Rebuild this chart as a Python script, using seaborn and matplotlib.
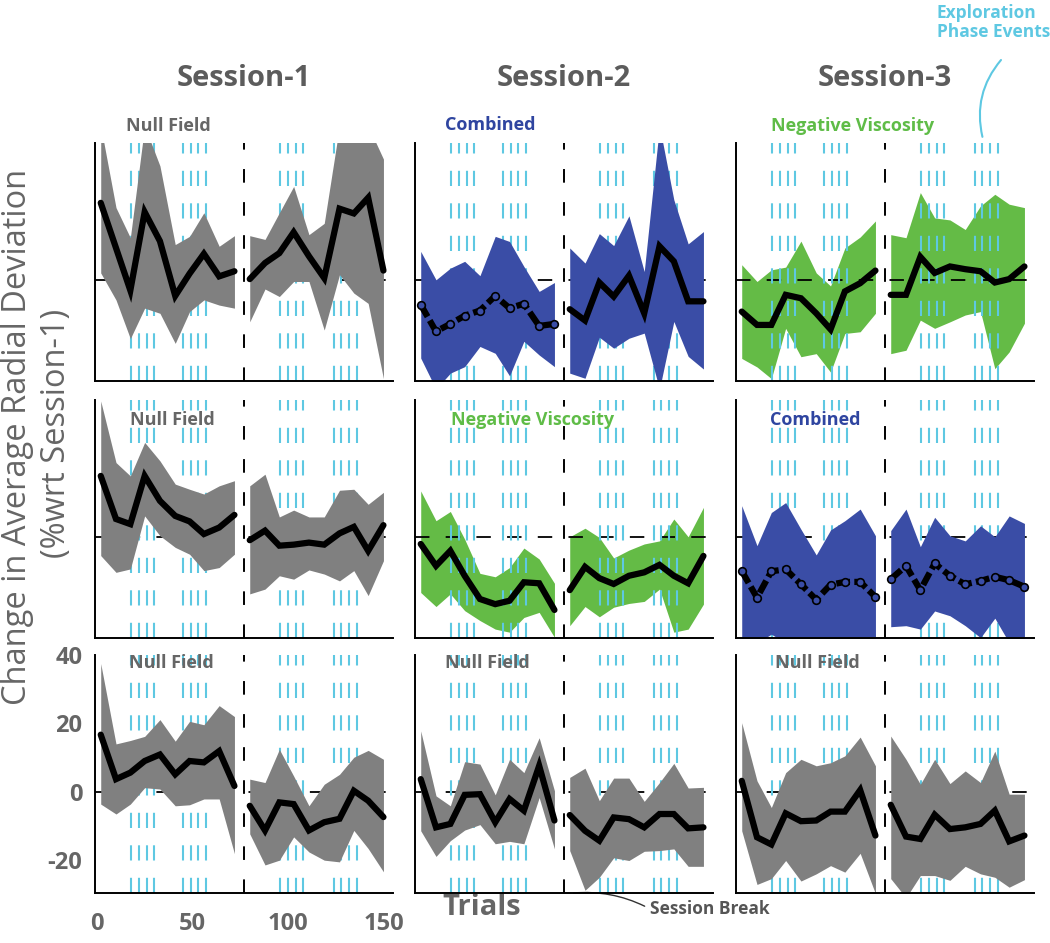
import matplotlib
matplotlib.use("Agg")
import matplotlib.pyplot as plt
import pandas as pd
import seaborn as sns

# ---------------- data ----------------
trials = [2, 10, 17.5, 25, 33, 41, 48.5, 56, 64, 72,
          80, 88, 95.5, 103, 111, 119, 127, 134.5, 142, 150]
exploration_trials = [18, 22, 26, 30, 45, 49, 53, 57,
                      96, 100, 104, 108, 124, 128, 132, 136]
session_break = 77
sessions = ["Session-1", "Session-2", "Session-3"]
conditions = [["Null Field", "Combined", "Negative Viscosity"],
              ["Null Field", "Negative Viscosity", "Combined"],
              ["Null Field", "Null Field", "Null Field"]]
y_ticks = [-20, 0, 20, 40]
x_ticks = [0, 50, 100, 150]

# row 1
r1c1_mean = [22.5, 9.3, -3.1, 19.8, 11.3, -4.7, 1.8, 7.6, 1.0, 2.5, 0.2, 4.9, 7.8, 13.9, 6.9, 0.5, 20.8, 19.4, 24.0, 2.7]
r1c1_hi = [45, 21.1, 12.3, 45, 33.3, 10.3, 12.7, 19.6, 9.8, 12.9, 12.9, 11.8, 19.6, 27.3, 13.2, 16.5, 45, 45, 45, 35.3]
r1c1_lo = [2.0, -5.9, -17.2, -8.3, -9.8, -18.6, -9.3, -5.9, -7.4, -8.3, -12.3, -2.7, -4.9, -0.5, -0.5, -14.7, 1.5, -3.9, -6.9, -28.9]

r1c2_mean = [-7.3, -15.1, -12.9, -10.5, -9.0, -4.7, -8.3, -7.0, -13.5, -12.9, -8.6, -11.9, -0.8, -4.9, 1.2, -9.8, 9.8, 5.4, -6.3, -6.3]
r1c2_hi = [8.3, 0.0, 3.4, 5.4, 1.2, 12.7, 11.2, 3.9, -3.4, -0.8, 9.3, 4.9, 13.5, 10.0, 18.7, 2.4, 45, 23.4, 10.5, 14.1]
r1c2_lo = [-22.9, -32, -27.3, -25.4, -19.5, -21.5, -28.1, -18.0, -22.0, -25.4, -27.3, -28.8, -16.8, -20.0, -17.1, -15.6, -32, -12.2, -22.4, -26.1]

r1c3_mean = [-9.3, -13.2, -13.2, -4.4, -5.4, -9.8, -14.5, -3.4, -1.0, 2.7, -4.4, -4.4, 6.7, 2.0, 3.9, 3.1, 2.5, -0.8, 0.2, 3.9]
r1c3_hi = [4.4, -0.5, 2.9, 3.7, 11.3, 2.0, -1.8, 9.3, 12.5, 17.2, 13.2, 12.3, 25.5, 18.1, 17.5, 14.7, 21.6, 25.0, 22.1, 21.1]
r1c3_lo = [-23.0, -25.5, -28.9, -14.2, -22.5, -21.6, -27.0, -15.7, -15.2, -9.8, -21.6, -20.6, -11.8, -14.2, -12.3, -10.3, -9.3, -26.0, -21.1, -12.7]

# row 2
r2c1_mean = [17.8, 5.2, 3.7, 17.8, 10.5, 6.1, 4.5, 0.8, 2.7, 6.4, -1.0, 1.8, -2.6, -2.3, -1.7, -2.3, 1.0, 2.9, -4.1, 3.4]
r2c1_hi = [39.7, 21.7, 17.8, 27.6, 22.2, 15.4, 13.9, 12.5, 14.9, 16.4, 14.9, 18.3, 5.8, 7.8, 5.8, 5.8, 13.6, 13.9, 9.5, 13.0]
r2c1_lo = [-5.5, -10.4, -9.4, 6.1, 0.3, -3.1, -5.1, -9.9, -9.0, -5.1, -16.7, -15.3, -11.4, -12.4, -9.7, -10.9, -12.9, -9.9, -17.2, -7.0]

r2c2_mean = [-2.1, -8.5, -4.1, -11.4, -18.2, -19.7, -18.7, -13.3, -13.6, -21.4, -15.6, -8.8, -12.1, -13.8, -11.4, -10.4, -8.2, -11.4, -13.6, -5.6]
r2c2_hi = [13.4, 4.7, 7.4, -0.7, -10.7, -11.7, -9.0, -3.3, -6.5, -13.6, 0.0, 2.5, -0.2, -6.2, -3.9, -2.1, -1.2, 5.2, 0.0, 8.6]
r2c2_lo = [-16.3, -20.4, -16.7, -21.6, -24.5, -27.0, -27.9, -23.6, -22.1, -29.4, -26.0, -20.4, -23.4, -20.6, -19.5, -18.9, -15.3, -27.9, -27.0, -19.7]

r2c3_mean = [-10.0, -17.8, -10.1, -9.5, -13.9, -18.4, -14.0, -13.2, -13.2, -17.6, -12.4, -8.5, -15.6, -7.8, -11.4, -13.9, -12.9, -11.7, -12.7, -14.6]
r2c3_hi = [9.1, -2.6, 7.1, 10.0, 2.2, -5.3, 2.0, 4.7, 8.1, 0.3, 1.8, 8.1, -2.9, 5.7, 0.3, -1.2, 3.2, 0.0, 6.1, 3.9]
r2c3_lo = [-31, -31, -28.5, -31, -31, -31, -31, -31, -31, -31, -26.3, -26.0, -27.0, -21.7, -23.1, -26.0, -29.5, -23.8, -31, -31]

# row 3
r3c1_mean = [16.7, 3.7, 5.6, 9.0, 10.9, 5.1, 9.0, 8.6, 11.9, 1.7, -4.1, -11.3, -3.1, -3.6, -11.3, -8.9, -7.9, 0.3, -2.6, -7.4]
r3c1_hi = [37.5, 14.0, 15.0, 16.2, 21.1, 14.8, 20.6, 19.6, 25.2, 22.0, 3.7, 2.7, 12.4, 4.6, -4.1, 2.2, 5.1, 10.1, 12.1, 9.5]
r3c1_lo = [-3.6, -6.5, -3.6, 1.2, 0.8, -4.1, -3.8, -2.1, -2.1, -18.1, -12.3, -21.4, -20.0, -13.2, -17.6, -20.0, -20.5, -11.3, -16.6, -23.4]

r3c2_mean = [3.7, -10.4, -9.4, -0.9, -0.7, -8.9, -2.1, -5.5, 7.6, -8.4, -6.8, -11.4, -14.3, -7.5, -8.0, -10.4, -6.5, -6.5, -10.7, -10.4]
r3c2_hi = [17.8, -1.2, -4.1, 8.8, 8.1, -0.9, 9.5, 5.6, 15.8, 0.3, 4.2, 6.9, -2.6, 4.0, 4.0, -2.8, 2.7, 8.3, 1.1, 1.3]
r3c2_lo = [-11.4, -18.9, -14.3, -11.2, -9.6, -15.2, -14.5, -15.2, -1.7, -16.7, -17.2, -28.8, -25.0, -19.3, -20.1, -17.4, -17.2, -16.7, -21.8, -21.8]

r3c3_mean = [3.2, -13.3, -15.4, -6.3, -8.6, -8.4, -5.8, -5.8, 0.5, -12.8, -3.8, -13.1, -13.8, -6.7, -10.9, -10.4, -9.4, -5.5, -14.5, -12.8]
r3c3_hi = [20.2, 3.2, -4.6, 5.6, 9.5, 7.6, 8.5, 10.5, 16.0, 7.6, 16.3, 9.5, 2.2, 9.5, 2.4, 6.1, 2.7, 11.9, -0.7, -0.7]
r3c3_lo = [-11.4, -27.1, -25.4, -20.1, -26.1, -24.0, -21.6, -23.5, -18.0, -29.8, -25.4, -31, -24.5, -24.5, -25.9, -21.8, -24.0, -25.0, -27.9, -25.7]

panels = [[(r1c1_mean, r1c1_hi, r1c1_lo), (r1c2_mean, r1c2_hi, r1c2_lo), (r1c3_mean, r1c3_hi, r1c3_lo)],
          [(r2c1_mean, r2c1_hi, r2c1_lo), (r2c2_mean, r2c2_hi, r2c2_lo), (r2c3_mean, r2c3_hi, r2c3_lo)],
          [(r3c1_mean, r3c1_hi, r3c1_lo), (r3c2_mean, r3c2_hi, r3c2_lo), (r3c3_mean, r3c3_hi, r3c3_lo)]]

# ---------------- style ----------------
sns.set_style("white")
plt.rcParams["font.family"] = ["Open Sans", "DejaVu Sans"]
plt.rcParams["axes.unicode_minus"] = False

fill_colors = {"Null Field": "#808080", "Combined": "#3A4DA6", "Negative Viscosity": "#64BB46"}
label_colors = {"Null Field": "#666666", "Combined": "#2F45A0", "Negative Viscosity": "#5FBC47"}
cyan = "#5EC8E2"
gray_text = "#666666"
dotted = {(0, 1): [True, False], (1, 2): [True, True]}

label_pos = [[(0.247, 1.071), (0.252, 1.074), (0.39, 1.071)],
             [(0.258, 0.916), (0.393, 0.916), (0.265, 0.916)],
             [(0.255, 0.966), (0.242, 0.966), (0.272, 0.966)]]

W, H = 1050, 943
fig = plt.figure(figsize=(W / 100, H / 100), dpi=100)
col_left = [95, 415, 736]
row_top = [143, 400, 655]
pw, ph = 298, 238

axes = [[None] * 3 for _ in range(3)]
for r in range(3):
    for c in range(3):
        ax = fig.add_axes([col_left[c] / W, 1 - (row_top[r] + ph) / H, pw / W, ph / H])
        axes[r][c] = ax
        cond = conditions[r][c]
        mean, hi, lo = panels[r][c]
        green = cond == "Negative Viscosity"
        line_z = 1.5
        fill_z = 1.0 if green else 2.0

        # reference lines
        ax.axhline(0, color="black", lw=1.3, ls=(0, (8, 9)), zorder=line_z)
        ax.axvline(session_break, color="black", lw=1.4, ls=(0, (7, 10)), zorder=line_z)
        for xe in exploration_trials:
            ax.axvline(xe, color=cyan, lw=1.5, ls=(0, (7.3, 8.3)), zorder=line_z)

        for s, sl in enumerate([slice(0, 10), slice(10, 20)]):
            df = pd.DataFrame({"trial": trials[sl], "mean": mean[sl], "hi": hi[sl], "lo": lo[sl]})
            ax.fill_between(df["trial"], df["lo"], df["hi"], color=fill_colors[cond],
                            lw=0, zorder=fill_z)
            is_dotted = dotted.get((r, c), [False, False])[s]
            if is_dotted:
                sns.lineplot(data=df, x="trial", y="mean", ax=ax, color="black", lw=4.5,
                             ls=(0, (2.2, 0.7)), marker="o", markersize=5.5,
                             markerfacecolor=fill_colors[cond], markeredgecolor="black",
                             markeredgewidth=1.2, estimator=None, sort=False, zorder=4)
            else:
                sns.lineplot(data=df, x="trial", y="mean", ax=ax, color="black", lw=4.5,
                             estimator=None, sort=False, zorder=4,
                             solid_joinstyle="miter")

        ax.set_xlim(-1, 155)
        ax.set_ylim(-29.6, 40)
        ax.set_xticks(x_ticks)
        ax.set_yticks(y_ticks)
        ax.set_xlabel("")
        ax.set_ylabel("")
        for side in ["top", "right"]:
            ax.spines[side].set_visible(False)
        for side in ["left", "bottom"]:
            ax.spines[side].set_color("black")
            ax.spines[side].set_linewidth(1.4)
            ax.spines[side].set_zorder(5)
        ax.tick_params(direction="in", length=4, width=1.3, color="black",
                       labelsize=17, labelcolor=gray_text)
        ax.tick_params(axis="y", pad=9)
        ax.tick_params(axis="x", pad=14)
        if not (r == 2 and c == 0):
            ax.tick_params(labelleft=False, labelbottom=False)
        else:
            for t in ax.get_xticklabels() + ax.get_yticklabels():
                t.set_fontweight("bold")

        lx, ly = label_pos[r][c]
        ax.text(lx, ly, cond, transform=ax.transAxes, ha="center", va="center",
                fontsize=13, fontweight="bold", color=label_colors[cond], zorder=6,
                clip_on=False)

        if r == 0:
            ax.text(0.5, 1.27, sessions[c], transform=ax.transAxes, ha="center",
                    va="center", fontsize=21, fontweight="bold", color="#5c5c5c")

# y label
fig.text(18 / W, 1 - 437 / H, "Change in Average Radial Deviation", rotation=90,
         ha="center", va="center", fontsize=23.5, color=gray_text)
fig.text(57 / W, 1 - 433 / H, "(%wrt Session-1)", rotation=90,
         ha="center", va="center", fontsize=23.5, color=gray_text)

# Trials label
axb = axes[2][1]
axb.text(0.225, -0.062, "Trials", transform=axb.transAxes, ha="center", va="center",
         fontsize=21, fontweight="bold", color=gray_text)

# Session break annotation
axb.annotate("Session Break", xy=(82, -29.6), xycoords="data",
             xytext=(0.79, -0.068), textcoords="axes fraction",
             ha="left", va="center", fontsize=12.5, fontweight="bold", color="#555555",
             annotation_clip=False,
             arrowprops=dict(arrowstyle="-", color="#333333", lw=1.0,
                             connectionstyle="arc3,rad=0.15", relpos=(0, 0.5),
                             shrinkA=2, shrinkB=0))

# Exploration phase events annotation
axt = axes[0][2]
fig.text(937 / W, 1 - 4 / H, "Exploration\nPhase Events", ha="left", va="top",
         fontsize=12.5, fontweight="bold", color=cyan, linespacing=1.1)
axt.annotate("", xy=(128, 41.8), xycoords="data",
             xytext=(1001 / W, 1 - 60 / H), textcoords="figure fraction",
             annotation_clip=False,
             arrowprops=dict(arrowstyle="-", color=cyan, lw=1.5,
                             connectionstyle="arc3,rad=0.25", shrinkA=0, shrinkB=0))

fig.savefig("out.png", dpi=100)
